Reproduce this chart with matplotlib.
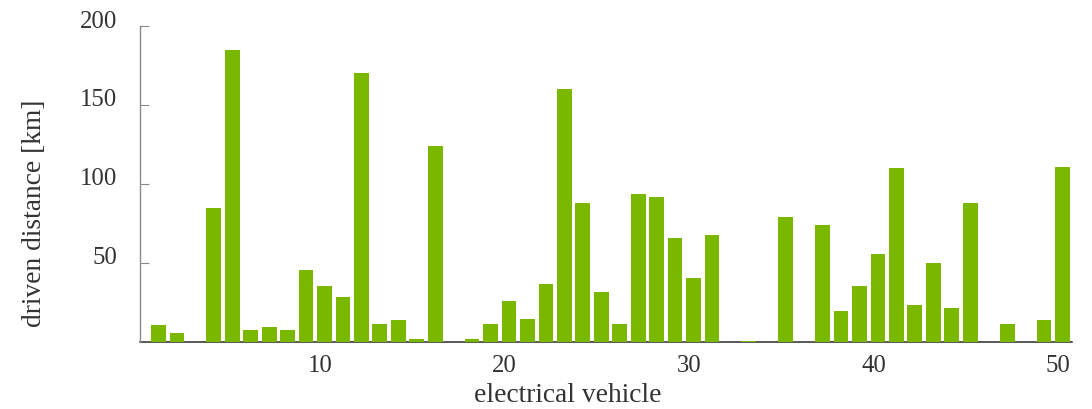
import matplotlib
matplotlib.use("Agg")
import matplotlib.pyplot as plt
from matplotlib.transforms import ScaledTranslation

vehicles = list(range(1, 51))
distance_km = [11, 6, 0, 85, 185, 7.5, 9.5, 7.5, 45.6, 35.4,
               28.5, 170, 11.4, 14, 2, 124, 0, 2, 11.4, 26,
               14.6, 36.7, 160, 88, 31.6, 11.4, 93.7, 91.8, 65.8, 40.5,
               67.7, 0, 0.8, 0, 79, 0, 74, 19.6, 35.4, 55.7,
               110, 23.4, 50, 21.5, 88, 0, 11.4, 0, 14, 110.8]
xticks = [10, 20, 30, 40, 50]
yticks = [50, 100, 150, 200]
xlabel = "electrical vehicle"
ylabel = "driven distance [km]"

plt.rcParams['font.family'] = ['Liberation Serif', 'DejaVu Serif']
txt = '#333333'

fig = plt.figure(figsize=(10.92, 4.10), dpi=100)
W, H = 1092, 410
ax = fig.add_axes([140 / W, 1 - 343 / H, (1071.7 - 140) / W, (343 - 27) / H])

ax.bar(vehicles, distance_km, width=0.8, color='#7ab800', zorder=3)
ax.set_xlim(0, 50.5)
ax.set_ylim(0, 200)

for s in ['top', 'right']:
    ax.spines[s].set_visible(False)
ax.spines['left'].set_color('#8a8a8a')
ax.spines['left'].set_linewidth(1.0)
ax.spines['bottom'].set_color('#2b2b2b')
ax.spines['bottom'].set_linewidth(1.1)
ax.spines['bottom'].set_zorder(2)

ax.set_xticks(xticks)
ax.set_xticklabels([str(t) for t in xticks])
ax.set_yticks(yticks)
ax.set_yticklabels([str(t) for t in yticks])
ax.tick_params(axis='x', length=0, pad=9, labelsize=17.8, labelcolor=txt)
ax.tick_params(axis='y', direction='in', length=6.5, width=0.8, color='#8a8a8a',
               pad=16.5, labelsize=17.8, labelcolor=txt)

for lab in ax.get_yticklabels():
    lab.set_transform(lab.get_transform() + ScaledTranslation(0, 8 / 100, fig.dpi_scale_trans))
for lab in ax.get_xticklabels():
    lab.set_transform(lab.get_transform() + ScaledTranslation(-4.5 / 100, 0, fig.dpi_scale_trans))

fig.text(568 / W, 1 - 396 / H, xlabel, ha='center', va='center', fontsize=19.8, color=txt)
fig.text(35 / W, 1 - 213 / H, ylabel, ha='center', va='center', rotation=90,
         fontsize=19.8, color=txt)

fig.savefig('out.png', dpi=100)
